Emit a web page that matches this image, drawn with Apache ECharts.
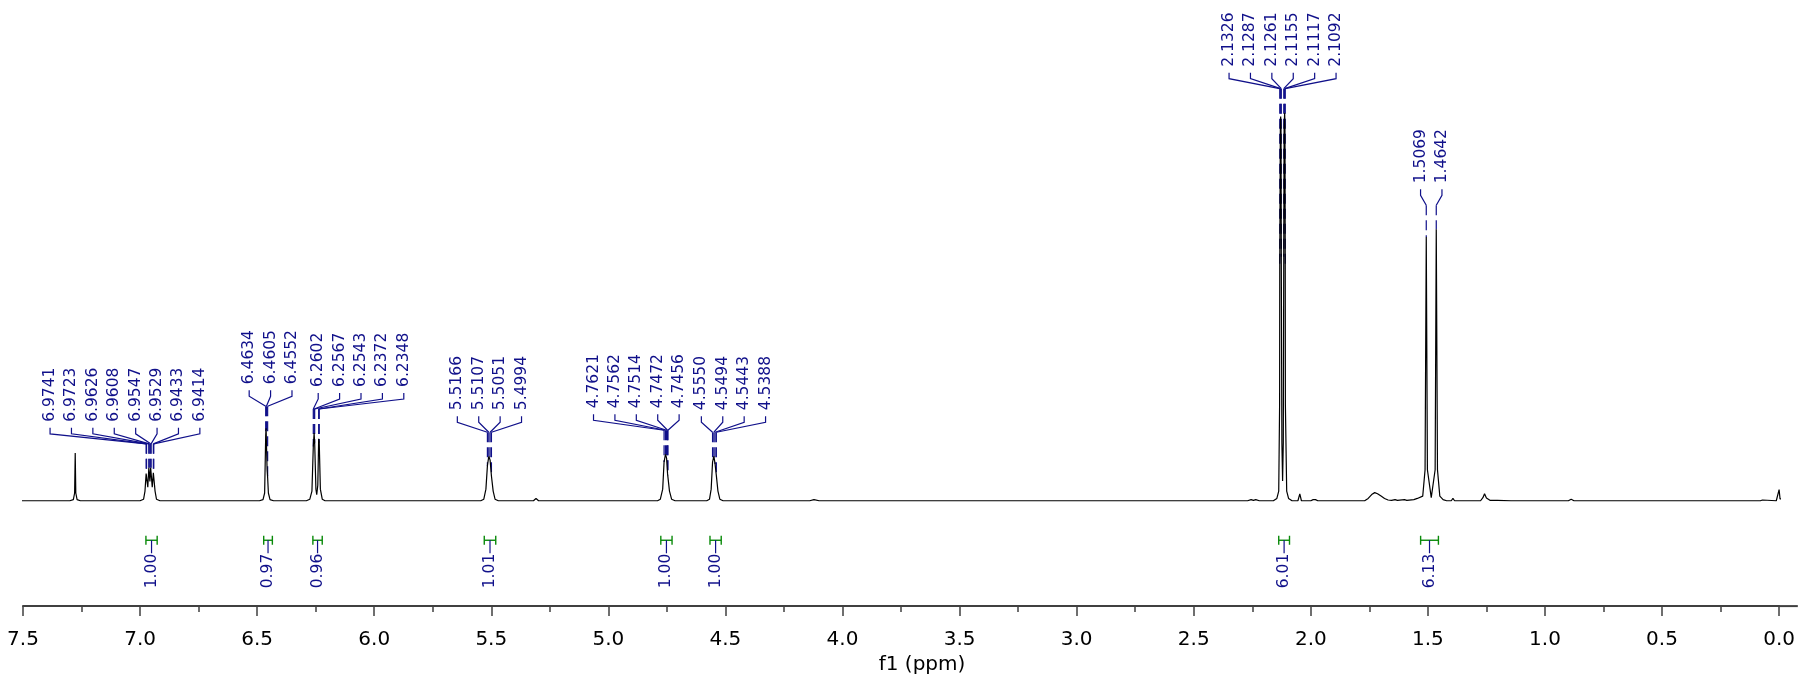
<!DOCTYPE html>
<html>
<head>
<meta charset="utf-8">
<script src="https://cdn.jsdelivr.net/npm/echarts@6/dist/echarts.min.js"></script>
<style>
html,body{margin:0;padding:0;background:#fff;}
#chart{width:1798px;height:680px;}
</style>
</head>
<body>
<div id="chart"></div>
<script>
// ---------------- DATA ----------------
// spectrum trace: [chemical shift (ppm), intensity (% of tallest line)]
const spectrumPoints = [
  [7.52, 0],
  [7.30, 0], [7.285, 0.3], [7.2795, 2], [7.277, 12.3], [7.2745, 2], [7.269, 0.3], [7.255, 0],
  [7.00, 0], [6.985, 0.4], [6.979, 2.5], [6.9741, 7], [6.9732, 7.5], [6.9723, 7], [6.967, 3.5],
  [6.9626, 8.5], [6.9617, 8.8], [6.9608, 8.5], [6.958, 5], [6.9547, 8.5], [6.9538, 8.8], [6.9529, 8.5],
  [6.948, 3.5], [6.9433, 7.2], [6.9424, 7.5], [6.9414, 7.2], [6.936, 2.5], [6.93, 0.4], [6.915, 0],
  [6.49, 0], [6.475, 0.3], [6.468, 2], [6.4634, 17], [6.4618, 18.7], [6.4605, 18.2], [6.4575, 8],
  [6.4552, 6], [6.452, 2], [6.445, 0.3], [6.43, 0],
  [6.29, 0], [6.275, 0.4], [6.266, 2.5], [6.2602, 14], [6.2567, 17.5], [6.2543, 15], [6.249, 3],
  [6.2455, 1.6], [6.241, 4], [6.2372, 16], [6.2348, 15], [6.230, 3], [6.222, 0.4], [6.21, 0],
  [5.545, 0], [5.532, 0.4], [5.523, 3], [5.5166, 9], [5.5107, 11.5], [5.5051, 10.5], [5.4994, 6.4],
  [5.492, 2.5], [5.484, 0.4], [5.47, 0],
  [5.32, 0], [5.309, 0.6], [5.298, 0],
  [4.79, 0], [4.778, 0.4], [4.768, 3], [4.7621, 10], [4.7562, 12], [4.7514, 11], [4.7472, 7],
  [4.7456, 6.5], [4.739, 2.5], [4.73, 0.4], [4.715, 0],
  [4.58, 0], [4.568, 0.4], [4.561, 3], [4.555, 10], [4.5494, 11.5], [4.5443, 9.5], [4.5388, 6.5],
  [4.532, 2.5], [4.524, 0.4], [4.51, 0],
  [4.14, 0], [4.122, 0.3], [4.10, 0],
  [2.27, 0], [2.255, 0.3], [2.245, 0.1], [2.235, 0.3], [2.22, 0],
  [2.16, 0], [2.145, 0.6], [2.137, 2.5], [2.1332, 25], [2.1326, 60], [2.1300, 97], [2.1287, 99.2],
  [2.1272, 96], [2.1261, 63], [2.1235, 15], [2.1205, 5.1], [2.1175, 15], [2.1155, 63], [2.1140, 96],
  [2.1117, 100.2], [2.1104, 97], [2.1092, 60], [2.1086, 25], [2.103, 2.5], [2.095, 0.6], [2.08, 0],
  [2.055, 0], [2.047, 1.8], [2.040, 0],
  [2.00, 0], [1.99, 0.3], [1.985, 0.1], [1.98, 0.3], [1.97, 0],
  [1.77, 0], [1.755, 0.6], [1.74, 1.6], [1.727, 2.1], [1.715, 1.8], [1.70, 1.2], [1.685, 0.6],
  [1.67, 0.2], [1.655, 0.1], [1.64, 0.3], [1.63, 0.1], [1.60, 0.3], [1.59, 0.1], [1.56, 0.3],
  [1.545, 0.6], [1.522, 1.2], [1.512, 8], [1.5069, 68.1], [1.502, 8], [1.4856, 0.8], [1.469, 8],
  [1.4642, 70.1], [1.459, 8], [1.449, 1.2], [1.435, 0.3], [1.42, 0],
  [1.40, 0], [1.393, 0.6], [1.386, 0], [1.335, 0], [1.329, 0.4], [1.322, 0],
  [1.275, 0], [1.265, 0.8], [1.258, 1.8], [1.25, 0.7], [1.235, 0.1], [1.215, 0.1], [1.209, 0.3],
  [1.203, 0.1], [1.145, 0], [1.138, 0.2], [1.13, 0],
  [0.90, 0], [0.888, 0.4], [0.876, 0],
  [0.08, 0], [0.071, 0.2], [0.064, 0],
  [0.012, 0], [0.004, 0.5], [0.0, 2.9], [-0.004, 0.5], [-0.012, 0],
  [-0.08, 0]
];

// picked peaks, one list per multiplet (ppm) and the trace height at each line
const peakShifts = [
  [6.9741, 6.9723, 6.9626, 6.9608, 6.9547, 6.9529, 6.9433, 6.9414],
  [6.4634, 6.4605, 6.4552],
  [6.2602, 6.2567, 6.2543, 6.2372, 6.2348],
  [5.5166, 5.5107, 5.5051, 5.4994],
  [4.7621, 4.7562, 4.7514, 4.7472, 4.7456],
  [4.5550, 4.5494, 4.5443, 4.5388],
  [2.1326, 2.1287, 2.1261, 2.1155, 2.1117, 2.1092],
  [1.5069, 1.4642]
];
const peakHeights = [
  [7, 7, 8.5, 8.5, 8.5, 8.5, 7.2, 7.2],
  [17, 18.2, 6],
  [14, 17.5, 15, 16, 15],
  [9, 11.5, 10.5, 6.4],
  [10, 12, 11, 7, 6.5],
  [10, 11.5, 9.5, 6.5],
  [60, 99.2, 63, 63, 100.2, 60],
  [68.1, 70.1]
];

// integrals
const integralFrom = [6.975, 6.472, 6.262, 5.530, 4.776, 4.566, 2.137, 1.531];
const integralTo   = [6.927, 6.435, 6.222, 5.481, 4.728, 4.518, 2.091, 1.455];
const integralValues = [1.00, 0.97, 0.96, 1.01, 1.00, 1.00, 6.01, 6.13];

// axis ticks
const xTickStep = 0.5;
const xAxisMin = 0;
const xAxisMax = 7.5;
const xTraceEnd = -0.08;   // spectrum / axis line run a little past 0.0 ppm
const yAxisMin = -27.2;
const yAxisMax = 120;

// ---------------- LAYOUT / STYLE ----------------
const labelShiftPx = [-25, 4, 45, 0, -30, 19, 0, 0]; // horizontal shift of each label block
const LAYOUT = {
  labelSpacing: 21.4,
  convGap: 24,
  integralLevel: -10.2,
  font: '15.5px "DejaVu Sans"'
};
const NAVY = '#10108a';
const GREEN = '#0a8a0a';
const axisColor = '#404040';

function renderPeaks(params, api) {
  const g = api.value(2);
  const shifts = peakShifts[g];
  const heights = peakHeights[g];
  const n = shifts.length;
  const px = shifts.map(s => api.coord([s, 0])[0]);
  const py = shifts.map((s, i) => api.coord([s, heights[i]])[1]);
  const conv = Math.min.apply(null, py) - LAYOUT.convGap;
  const cx = px.reduce((a, b) => a + b, 0) / n + labelShiftPx[g];
  const children = [];
  for (let i = 0; i < n; i++) {
    const lx = cx + (i - (n - 1) / 2) * LAYOUT.labelSpacing;
    children.push({
      type: 'text', x: lx, y: conv - 22, rotation: Math.PI / 2,
      style: { text: shifts[i].toFixed(4), fill: NAVY, font: LAYOUT.font, align: 'left', verticalAlign: 'middle' }
    });
    children.push({
      type: 'polyline',
      shape: { points: [[lx, conv - 16], [lx, conv - 10], [px[i], conv]] },
      style: { stroke: NAVY, lineWidth: 1.2, fill: 'none' }
    });
    children.push({
      type: 'line',
      shape: { x1: px[i], y1: conv, x2: px[i], y2: py[i] },
      style: { stroke: NAVY, lineWidth: 1.2, lineDash: [10, 5] }
    });
  }
  return { type: 'group', children: children };
}

function renderIntegral(params, api) {
  const a = api.coord([api.value(0), api.value(3)]);
  const b = api.coord([api.value(1), api.value(3)]);
  const y = a[1], x1 = a[0], x2 = b[0], xm = (x1 + x2) / 2;
  const gs = { stroke: GREEN, lineWidth: 1.4 };
  return {
    type: 'group',
    children: [
      { type: 'line', shape: { x1: x1, y1: y, x2: x2, y2: y }, style: gs },
      { type: 'line', shape: { x1: x1, y1: y - 4.5, x2: x1, y2: y + 4.5 }, style: gs },
      { type: 'line', shape: { x1: x2, y1: y - 4.5, x2: x2, y2: y + 4.5 }, style: gs },
      { type: 'line', shape: { x1: xm, y1: y, x2: xm, y2: y + 13 }, style: { stroke: NAVY, lineWidth: 1.2 } },
      {
        type: 'text', x: xm, y: y + 13.5, rotation: Math.PI / 2,
        style: { text: api.value(2).toFixed(2), fill: NAVY, font: LAYOUT.font, align: 'right', verticalAlign: 'middle' }
      }
    ]
  };
}

// axis line continues past the last tick (0.0 ppm) to the edge, like the reference
function renderAxisExtension(params, api) {
  const p0 = api.coord([api.value(0), api.value(2)]);
  const p1 = api.coord([api.value(1), api.value(2)]);
  return { type: 'line', shape: { x1: p0[0], y1: p0[1], x2: p1[0], y2: p1[1] },
           style: { stroke: axisColor, lineWidth: 2 } };
}

const chart = echarts.init(document.getElementById('chart'), null, { renderer: 'canvas' });
chart.setOption({
  animation: false,
  backgroundColor: '#ffffff',
  grid: { left: 23, right: 16, top: 36, bottom: 71 },
  xAxis: {
    type: 'value', inverse: true,
    min: xAxisMin, max: xAxisMax, interval: xTickStep,
    name: 'f1 (ppm)', nameLocation: 'middle', nameGap: 44,
    nameTextStyle: { fontFamily: 'DejaVu Sans', fontSize: 20, color: '#000', padding: [0, 0, 0, 42] },
    axisLine: { onZero: false, lineStyle: { color: axisColor, width: 2 } },
    axisTick: { show: true, length: 10, lineStyle: { color: axisColor, width: 1.5 } },
    minorTick: { show: true, splitNumber: 2, length: 6, lineStyle: { color: axisColor, width: 1.5 } },
    axisLabel: { margin: 24, fontFamily: 'DejaVu Sans', fontSize: 20, color: '#000',
      formatter: v => v.toFixed(1) },
    splitLine: { show: false },
    minorSplitLine: { show: false }
  },
  yAxis: { type: 'value', min: yAxisMin, max: yAxisMax, show: false },
  series: [
    {
      type: 'custom', renderItem: renderPeaks, clip: false, z: 3,
      encode: { x: 0, y: 1 },
      data: peakShifts.map((s, i) => [s[0], 0, i])
    },
    {
      type: 'line', data: spectrumPoints, showSymbol: false, symbol: 'none',
      lineStyle: { color: '#000', width: 1.2 }, z: 4, clip: false
    },
    {
      type: 'custom', renderItem: renderIntegral, clip: false, z: 3,
      encode: { x: [0, 1], y: 3 },
      data: integralFrom.map((f, i) => [f, integralTo[i], integralValues[i], LAYOUT.integralLevel])
    },
    {
      type: 'custom', renderItem: renderAxisExtension, clip: false, z: 3,
      encode: { x: [0, 1], y: 2 },
      data: [[xAxisMin, xTraceEnd, yAxisMin]]
    }
  ]
});
</script>
</body>
</html>
